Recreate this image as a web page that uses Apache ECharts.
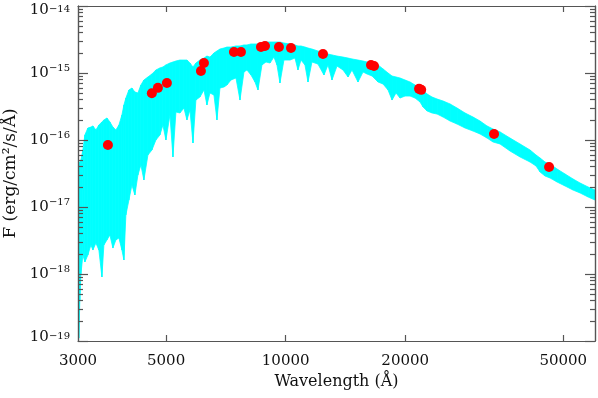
<!DOCTYPE html>
<html>
<head>
<meta charset="utf-8">
<title>SED</title>
<script src="https://cdn.jsdelivr.net/npm/echarts@6/dist/echarts.min.js"></script>
<style>
  html, body { margin: 0; padding: 0; background: #fff; }
  #chart { width: 598px; height: 398px; }
</style>
</head>
<body>
<div id="chart"></div>
<script>
const wavelength = [
  3000, 3015, 3032, 3050, 3086, 3122, 3177, 3233, 3271, 3328, 3386, 3446,
  3486, 3548, 3609, 3673, 3737, 3803, 3870, 3915, 3960, 4030, 4101, 4172, 4246, 4320, 4396,
  4500, 4605, 4713, 4824, 4908, 4995, 5112, 5202, 5293, 5416, 5544, 5642, 5741, 5843,
  5943, 6083, 6227, 6335, 6447, 6598, 6714, 6832, 6993, 7115, 7283, 7497, 7673,
  7853, 7990, 8178, 8371, 8517, 8716, 8922, 9131, 9344, 9508, 9674, 9901,
  10252, 10554, 10739, 10928, 11184, 11382, 11645, 12057, 12488, 12782, 13081, 13467, 13943,
  14357, 14689, 15210, 15659, 16028, 16500, 17083, 17586, 18103, 18528,
  18963, 19408, 19979, 20567, 21172, 21796, 22181, 22700, 23369, 24057, 24911,
  25938, 27014, 28293, 29637, 30862, 32139, 33276, 34652, 36722, 38920, 41243,
  42701, 43706, 44993, 46315, 48234, 50522, 52919, 55128, 57743, 60117
];
const fluxUpper = [
  3.57e-17, 4.23e-17, 4.69e-17, 5.03e-17, 7.09e-17, 1.19e-16, 1.51e-16, 1.56e-16, 1.62e-16, 1.41e-16, 1.67e-16, 1.86e-16,
  1.99e-16, 2.13e-16, 1.86e-16, 1.56e-16, 1.41e-16, 1.67e-16, 2.36e-16, 3.33e-16, 4.23e-16, 5.58e-16, 5.97e-16, 5.21e-16, 5.03e-16, 6.62e-16, 7.86e-16,
  8.72e-16, 9.66e-16, 1.11e-15, 1.19e-15, 1.23e-15, 1.32e-15, 1.41e-15, 1.46e-15, 1.51e-15, 1.56e-15, 1.56e-15, 1.56e-15, 1.41e-15, 1.23e-15,
  1.41e-15, 1.56e-15, 1.67e-15, 1.79e-15, 1.73e-15, 1.99e-15, 2.13e-15, 2.28e-15, 2.36e-15, 2.44e-15, 2.44e-15, 2.53e-15, 2.53e-15,
  2.62e-15, 2.62e-15, 2.71e-15, 2.71e-15, 2.71e-15, 2.80e-15, 2.90e-15, 2.90e-15, 2.90e-15, 2.90e-15, 2.90e-15, 2.80e-15,
  2.71e-15, 2.62e-15, 2.53e-15, 2.53e-15, 2.44e-15, 2.36e-15, 2.28e-15, 2.13e-15, 1.99e-15, 1.92e-15, 1.86e-15, 1.79e-15, 1.73e-15,
  1.67e-15, 1.62e-15, 1.56e-15, 1.51e-15, 1.46e-15, 1.41e-15, 1.32e-15, 1.15e-15, 1.0e-15, 9.02e-16,
  8.72e-16, 8.42e-16, 7.86e-16, 7.34e-16, 6.62e-16, 5.97e-16, 5.58e-16, 4.86e-16, 4.38e-16, 4.09e-16, 3.82e-16,
  3.45e-16, 3.00e-16, 2.53e-16, 2.20e-16, 1.92e-16, 1.62e-16, 1.46e-16, 1.32e-16, 1.07e-16, 8.72e-17, 7.09e-17,
  5.97e-17, 5.39e-17, 4.69e-17, 4.38e-17, 3.69e-17, 3.11e-17, 2.62e-17, 2.28e-17, 1.99e-17, 1.79e-17
];
const fluxLower = [
  1.03e-19, 1.11e-19, 4.09e-19, 9.66e-19, 1.92e-18, 1.51e-18, 1.92e-18, 2.71e-18, 2.28e-18, 2.90e-18, 2.28e-18, 9.02e-19,
  2.71e-18, 3.22e-18, 3.82e-18, 2.44e-18, 3.22e-18, 3.45e-18, 2.28e-18, 1.62e-18, 7.60e-18, 1.27e-17, 2.13e-17, 1.51e-17, 3.00e-17, 4.23e-17, 2.53e-17,
  5.97e-17, 7.09e-17, 1.0e-16, 1.19e-16, 1.67e-16, 1.0e-16, 2.36e-16, 5.58e-17, 2.62e-16, 2.53e-16, 3.00e-16, 1.99e-16, 2.80e-16, 9.02e-17,
  3.95e-16, 4.38e-16, 5.58e-16, 3.33e-16, 5.03e-16, 4.69e-16, 1.99e-16, 5.97e-16, 6.18e-16, 6.62e-16, 7.86e-16, 8.42e-16, 3.95e-16,
  1.035e-15, 1.11e-15, 9.34e-16, 7.34e-16, 5.58e-16, 1.32e-15, 1.46e-15, 1.41e-15, 1.73e-15, 1.32e-15, 7.09e-16, 1.56e-15,
  1.56e-15, 1.67e-15, 1.11e-15, 1.56e-15, 1.32e-15, 7.34e-16, 1.46e-15, 1.36e-15, 9.34e-16, 1.32e-15, 7.86e-16, 1.27e-15, 1.11e-15,
  8.72e-16, 1.11e-15, 7.34e-16, 1.035e-15, 9.66e-16, 9.02e-16, 7.34e-16, 6.85e-16, 5.58e-16, 3.95e-16,
  5.03e-16, 4.23e-16, 4.53e-16, 4.53e-16, 4.23e-16, 3.69e-16, 3.11e-16, 2.71e-16, 2.53e-16, 2.44e-16, 2.20e-16,
  1.92e-16, 1.73e-16, 1.51e-16, 1.36e-16, 1.23e-16, 1.07e-16, 9.34e-17, 8.72e-17, 6.85e-17, 5.58e-17, 4.69e-17,
  4.09e-17, 3.33e-17, 2.90e-17, 2.71e-17, 2.36e-17, 2.06e-17, 1.79e-17, 1.62e-17, 1.41e-17, 1.27e-17
];

// photometric points (red dots)
const photWave = [3568, 4603, 4768, 5023, 6119, 6226, 7410, 7717, 8666, 8870, 9618, 10313, 12415, 16400, 16690, 21670, 21940, 33470, 46050];
const photFlux = [8.4e-17, 5.0e-16, 6.0e-16, 7.1e-16, 1.07e-15, 1.41e-15, 2.06e-15, 2.06e-15, 2.44e-15, 2.53e-15, 2.44e-15, 2.36e-15, 1.92e-15, 1.32e-15, 1.27e-15, 5.8e-16, 5.6e-16, 1.23e-16, 3.95e-17];

// ticks
const xLabels = [3000, 5000, 10000, 20000, 50000];
const xTicks = [5000, 10000, 20000, 50000];
const yDecades = [1e-19, 1e-18, 1e-17, 1e-16, 1e-15, 1e-14];
const yMinor = [];
yDecades.slice(0, -1).forEach(d => {
  for (let m = 2; m <= 9; m++) yMinor.push(m * d);
});

const FONT = 'DejaVu Serif';
const FRAME = '#555555';

const chart = echarts.init(document.getElementById('chart'), null, { renderer: 'canvas' });

const lineStyle = { color: FRAME, width: 1.2 };
const xRange = { type: 'log', logBase: 10, min: 3000, max: 60100 };
const yRange = { type: 'log', logBase: 10, min: 1e-19, max: 1e-14 };

// 10^n label; the end labels are nudged inside the frame like in the original
function powerLabel(v) {
  const n = Math.round(-Math.log10(v));
  let tag = '';
  if (n === 14) tag = 'T';
  if (n === 19) tag = 'B';
  return '{b' + tag + '|10}{s' + tag + '|\u2212' + n + '}';
}

const baseTxt = { fontFamily: FONT, fontSize: 15, lineHeight: 19, color: '#111' };
const supTxt = { fontFamily: FONT, fontSize: 10, lineHeight: 10, verticalAlign: 'top', color: '#111' };

function yAxisCfg(position, ticks, len, labels) {
  return Object.assign({}, yRange, {
    position: position,
    z: 5,
    axisLine: { show: true, lineStyle: lineStyle },
    axisTick: { show: true, inside: true, length: len, customValues: ticks, lineStyle: lineStyle },
    axisLabel: labels ? {
      show: true,
      customValues: yDecades,
      margin: 8,
      formatter: powerLabel,
      rich: {
        b: baseTxt,
        s: supTxt,
        bT: Object.assign({}, baseTxt, { padding: [8, 0, 0, 0] }),
        sT: Object.assign({}, supTxt, { padding: [8, 0, 0, 0] }),
        bB: Object.assign({}, baseTxt, { padding: [0, 0, 8, 0] }),
        sB: supTxt
      }
    } : { show: false },
    splitLine: { show: false }
  });
}

const option = {
  animation: false,
  backgroundColor: '#fff',
  grid: { left: 78, right: 3, top: 6, bottom: 57, outerBoundsMode: 'none', containLabel: false },
  xAxis: [
    Object.assign({}, xRange, {
      position: 'bottom',
      z: 5,
      axisLine: { show: true, lineStyle: lineStyle },
      axisTick: { show: true, inside: true, length: 6, customValues: xTicks, lineStyle: lineStyle },
      axisLabel: {
        customValues: xLabels,
        margin: 13,
        formatter: v => String(Math.round(v)),
        fontFamily: FONT,
        fontSize: 15,
        color: '#111'
      },
      splitLine: { show: false },
      name: 'Wavelength (\u00c5)',
      nameLocation: 'middle',
      nameGap: 32,
      nameTextStyle: { fontFamily: FONT, fontSize: 16, color: '#111' }
    }),
    Object.assign({}, xRange, {
      position: 'top',
      z: 5,
      axisLine: { show: true, lineStyle: lineStyle },
      axisTick: { show: true, inside: true, length: 6, customValues: xTicks, lineStyle: lineStyle },
      axisLabel: { show: false },
      splitLine: { show: false }
    })
  ],
  yAxis: [
    Object.assign(yAxisCfg('left', yDecades, 10, true), {
      name: 'F (erg/cm\u00b2/s/\u00c5)',
      nameLocation: 'middle',
      nameGap: 51,
      nameTextStyle: { fontFamily: FONT, fontSize: 17, color: '#111' }
    }),
    yAxisCfg('left', yMinor, 5, false),
    yAxisCfg('right', yDecades, 10, false),
    yAxisCfg('right', yMinor, 5, false)
  ],
  series: [
    {
      type: 'custom',
      xAxisIndex: 0,
      yAxisIndex: 0,
      clip: true,
      data: wavelength.map((w, i) => [w, fluxUpper[i], fluxLower[i]]),
      encode: { x: 0, y: [1, 2] },
      renderItem: function (params, api) {
        const i = params.dataIndexInside;
        if (i >= params.dataInsideLength - 1) return null;
        const a = api.coord([api.value(0, i), api.value(1, i)]);
        const b = api.coord([api.value(0, i + 1), api.value(1, i + 1)]);
        const c = api.coord([api.value(0, i + 1), api.value(2, i + 1)]);
        const d = api.coord([api.value(0, i), api.value(2, i)]);
        return {
          type: 'polygon',
          shape: { points: [a, b, c, d] },
          style: { fill: '#00ffff', stroke: '#00ffff', lineWidth: 0.8 }
        };
      },
      z: 2
    },
    {
      type: 'scatter',
      xAxisIndex: 0,
      yAxisIndex: 0,
      data: photWave.map((w, i) => [w, photFlux[i]]),
      symbol: 'circle',
      symbolSize: 10,
      itemStyle: { color: '#ff0000', opacity: 1 },
      z: 3
    }
  ]
};

chart.setOption(option);
</script>
</body>
</html>
